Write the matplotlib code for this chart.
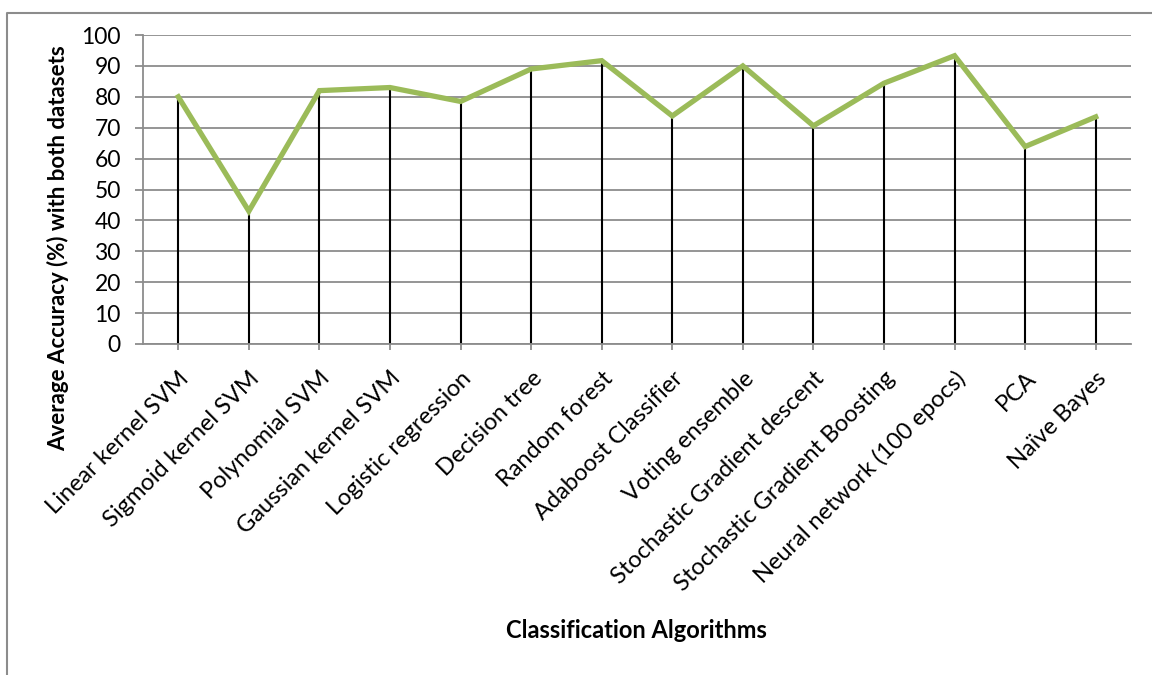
import matplotlib
matplotlib.use("Agg")
import matplotlib.pyplot as plt
from matplotlib.lines import Line2D

algorithms = ["Linear kernel SVM", "Sigmoid kernel SVM", "Polynomial SVM",
              "Gaussian kernel SVM", "Logistic regression", "Decision tree",
              "Random forest", "Adaboost Classifier", "Voting ensemble",
              "Stochastic Gradient descent", "Stochastic Gradient Boosting",
              "Neural network (100 epocs)", "PCA", "Na\u00efve Bayes"]
accuracy = [80, 43, 82, 83, 78.5, 89, 91.7, 73.8, 90, 70.6, 84.4, 93.3, 63.9, 73.5]
yticks = list(range(0, 101, 10))

plt.rcParams["font.family"] = ["Lato", "DejaVu Sans"]
grid_c = "#8c8c8c"

fig = plt.figure(figsize=(11.52, 6.75), dpi=100)
ax = fig.add_axes([143 / 1152, 1 - 344 / 675, (1131 - 143) / 1152, (344 - 35) / 675])

x = list(range(len(algorithms)))
ax.vlines(x, 0, accuracy, color="black", lw=1.5, zorder=2)
ax.plot(x, accuracy, color="#9bbb59", lw=3.8, solid_joinstyle="miter", zorder=3)

ax.set_xlim(-0.5, len(algorithms) - 0.5)
ax.set_ylim(0, 100)
ax.set_yticks(yticks)
ax.set_xticks(x)
ax.set_xticklabels(algorithms, rotation=45, ha="right", rotation_mode="anchor", fontsize=17)
ax.tick_params(axis="y", labelsize=16.5, length=6, width=1.3, color=grid_c, pad=10)
ax.tick_params(axis="x", length=4, width=1.3, color=grid_c, pad=13)
ax.grid(axis="y", color=grid_c, lw=1.3, zorder=1)
ax.set_axisbelow(True)
for s in ["top", "right"]:
    ax.spines[s].set_visible(False)
for s in ["left", "bottom"]:
    ax.spines[s].set_color(grid_c)
    ax.spines[s].set_linewidth(1.3)

fig.text(58 / 1152, 1 - 248 / 675, "Average Accuracy (%) with both datasets",
         rotation=90, ha="center", va="center", fontsize=16, fontweight="bold")
fig.text(636 / 1152, 1 - 631 / 675, "Classification Algorithms",
         ha="center", va="center", fontsize=17, fontweight="bold")

# outer chart frame (top and left edges visible)
fig.add_artist(Line2D([7 / 1152, 7 / 1152, 1], [0, 1 - 13 / 675, 1 - 13 / 675],
                      transform=fig.transFigure, color="#8c8c8c", lw=1.5))

fig.savefig("out.png", dpi=100)
